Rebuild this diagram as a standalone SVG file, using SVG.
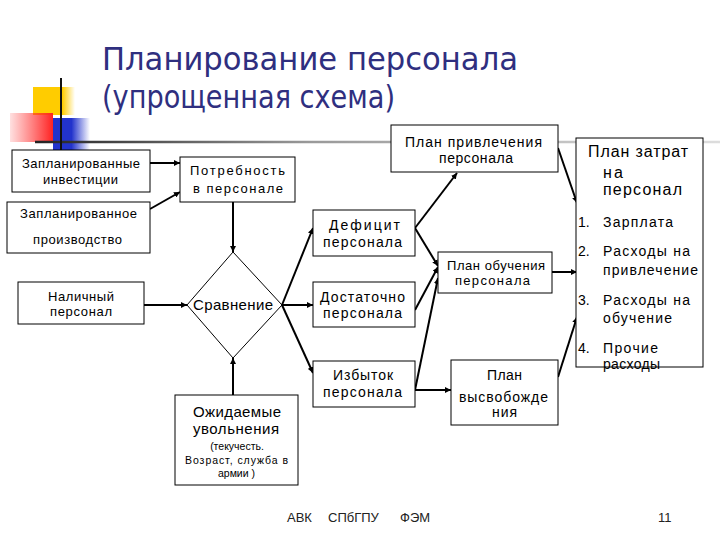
<svg xmlns="http://www.w3.org/2000/svg" width="720" height="540" viewBox="0 0 720 540">
<style>
.box{fill:#fff;stroke:#000;stroke-width:1}
.t{font-family:"Liberation Sans",Arial,sans-serif;fill:#000}
.m{text-anchor:middle}
.s13{font-size:13px}
.s14{font-size:14px}
.s15{font-size:15px}
.s10{font-size:10.5px}
.s16{font-size:16px}
.title{font-family:"DejaVu Sans","Liberation Sans",sans-serif;font-size:32px;fill:#2f2f7f}
.c{stroke:#000;stroke-width:2;fill:none;marker-end:url(#ah)}
.foot{font-family:"Liberation Sans",Arial,sans-serif;font-size:13px;fill:#222}
</style>
<defs>
<marker id="ah" viewBox="0 0 10 10" refX="10" refY="5" markerWidth="6" markerHeight="6" markerUnits="userSpaceOnUse" orient="auto">
<path d="M0,0 L10,5 L0,10 z" fill="#000"/>
</marker>
<linearGradient id="gY" x1="0" y1="0" x2="1" y2="0">
<stop offset="0" stop-color="#ffcc00"/><stop offset="0.7" stop-color="#ffcc00"/><stop offset="1" stop-color="#ffcc00" stop-opacity="0"/>
</linearGradient>
<linearGradient id="gR" x1="0" y1="0" x2="1" y2="0">
<stop offset="0" stop-color="#ff3333" stop-opacity="0.15"/><stop offset="1" stop-color="#ff2222"/>
</linearGradient>
<linearGradient id="gB" x1="0" y1="0" x2="1" y2="0">
<stop offset="0" stop-color="#2233cc"/><stop offset="0.5" stop-color="#2233cc"/><stop offset="1" stop-color="#2233cc" stop-opacity="0"/>
</linearGradient>
<linearGradient id="gL" x1="35" y1="0" x2="720" y2="0" gradientUnits="userSpaceOnUse">
<stop offset="0" stop-color="#222"/><stop offset="0.4" stop-color="#999"/><stop offset="1" stop-color="#ddd"/>
</linearGradient>
</defs>
<rect width="720" height="540" fill="#fff"/>

<g id="decor">
<rect x="33" y="87" width="42" height="28" fill="url(#gY)"/>
<rect x="10" y="113" width="43" height="29" fill="url(#gR)"/>
<rect x="53" y="118" width="37" height="37" fill="url(#gB)"/>
<line x1="35" y1="142" x2="720" y2="142" stroke="url(#gL)" stroke-width="2.5"/>
<line x1="61" y1="78" x2="61" y2="167" stroke="#111" stroke-width="2"/>
</g>

<g id="title">
<text class="title" x="102" y="70" textLength="416" lengthAdjust="spacingAndGlyphs">Планирование персонала</text>
<text class="title" x="102" y="108" textLength="293" lengthAdjust="spacingAndGlyphs">(упрощенная схема)</text>
</g>

<g id="connectors">
<line class="c" x1="150" y1="163" x2="180" y2="163"/>
<line class="c" x1="150" y1="209" x2="180" y2="192"/>
<line class="c" x1="233" y1="202" x2="233" y2="252"/>
<line class="c" x1="144" y1="305" x2="187" y2="305"/>
<line class="c" x1="233" y1="395" x2="233" y2="358"/>
<line class="c" x1="282" y1="305" x2="313" y2="228"/>
<line class="c" x1="282" y1="305" x2="313" y2="305"/>
<line class="c" x1="282" y1="305" x2="313" y2="373"/>
<line class="c" x1="415" y1="228" x2="457" y2="173"/>
<line class="c" x1="415" y1="228" x2="438" y2="266"/>
<line class="c" x1="415" y1="310" x2="438" y2="267"/>
<line class="c" x1="415" y1="390" x2="438" y2="278"/>
<line class="c" x1="415" y1="390" x2="451" y2="390"/>
<line class="c" x1="558" y1="148" x2="577" y2="203"/>
<line class="c" x1="552" y1="272" x2="577" y2="272"/>
<line class="c" x1="558" y1="377" x2="577" y2="317"/>
</g>

<g id="n-invest">
<rect class="box" x="12" y="150" width="138" height="42"/>
<text class="t m s13" x="81" y="168" textLength="118">Запланированные</text>
<text class="t m s13" x="80.5" y="184" textLength="75">инвестиции</text>
</g>
<g id="n-production">
<rect class="box" x="7" y="202" width="143" height="51"/>
<text class="t m s13" x="78.5" y="218" textLength="117">Запланированное</text>
<text class="t m s13" x="77.5" y="244" textLength="89">производство</text>
</g>
<g id="n-need">
<rect class="box" x="180" y="157" width="115" height="45"/>
<text class="t s13" x="190" y="175" textLength="95">Потребность</text>
<text class="t s13" x="193" y="193" textLength="90">в персонале</text>
</g>
<g id="n-compare">
<polygon points="233,252 282,305 233,358 187,305" fill="#fff" stroke="#000" stroke-width="1"/>
<text class="t m s15" x="233" y="310" textLength="80">Сравнение</text>
</g>
<g id="n-current">
<rect class="box" x="18" y="282" width="126" height="42"/>
<text class="t m s13" x="81" y="301" textLength="66">Наличный</text>
<text class="t m s13" x="81" y="316" textLength="62">персонал</text>
</g>
<g id="n-dismiss">
<rect class="box" x="175" y="395" width="123" height="90"/>
<text class="t m s15" x="237" y="417" textLength="88">Ожидаемые</text>
<text class="t m s15" x="236" y="434" textLength="86">увольнения</text>
<text class="t m s10" x="237" y="450">(текучесть.</text>
<text class="t m s10" x="236.5" y="464" textLength="103">Возраст, служба в</text>
<text class="t m s10" x="236.5" y="477">армии )</text>
</g>
<g id="n-deficit">
<rect class="box" x="313" y="210" width="102" height="46"/>
<text class="t m s14" x="364.5" y="230" textLength="71">Дефицит</text>
<text class="t m s14" x="362.5" y="247" textLength="79">персонала</text>
</g>
<g id="n-enough">
<rect class="box" x="313" y="282" width="102" height="45"/>
<text class="t m s14" x="362.5" y="302" textLength="85">Достаточно</text>
<text class="t m s14" x="362.5" y="318" textLength="79">персонала</text>
</g>
<g id="n-surplus">
<rect class="box" x="313" y="361" width="102" height="46"/>
<text class="t m s14" x="363" y="380" textLength="60">Избыток</text>
<text class="t m s14" x="362.5" y="397" textLength="79">персонала</text>
</g>
<g id="n-recruit">
<rect class="box" x="391" y="125" width="167" height="47"/>
<text class="t m s14" x="473.5" y="147" textLength="137">План привлечения</text>
<text class="t m s14" x="476" y="163" textLength="74">персонала</text>
</g>
<g id="n-training">
<rect class="box" x="438" y="252" width="114" height="41"/>
<text class="t m s13" x="496" y="270" textLength="98">План обучения</text>
<text class="t m s13" x="492.5" y="285" textLength="75">персонала</text>
</g>
<g id="n-release">
<rect class="box" x="451" y="360" width="107" height="65"/>
<text class="t m s14" x="504.5" y="380" textLength="35">План</text>
<text class="t m s14" x="503.5" y="402" textLength="89">высвобожде</text>
<text class="t m s14" x="504.5" y="417" textLength="25">ния</text>
</g>
<g id="n-costs">
<rect class="box" x="576" y="138" width="127" height="229"/>
<text class="t s16" x="588" y="157" textLength="100">План затрат</text>
<text class="t s16" x="603" y="178" textLength="20">на</text>
<text class="t s16" x="603" y="195" textLength="79">персонал</text>
<text class="t s14" x="578" y="227">1.</text>
<text class="t s14" x="603" y="227" textLength="70">Зарплата</text>
<text class="t s14" x="578" y="256">2.</text>
<text class="t s14" x="603" y="256" textLength="87">Расходы на</text>
<text class="t s14" x="603" y="275" textLength="95">привлечение</text>
<text class="t s14" x="578" y="305">3.</text>
<text class="t s14" x="603" y="305" textLength="87">Расходы на</text>
<text class="t s14" x="603" y="323" textLength="69">обучение</text>
<text class="t s14" x="578" y="353">4.</text>
<text class="t s14" x="603" y="353" textLength="55">Прочие</text>
<text class="t s14" x="603" y="369" textLength="57">расходы</text>
</g>

<g id="footer">
<text class="foot" x="287" y="522">АВК</text>
<text class="foot" x="328" y="522">СПбГПУ</text>
<text class="foot" x="400" y="522">ФЭМ</text>
<text class="foot" x="658" y="522">11</text>
</g>
</svg>
